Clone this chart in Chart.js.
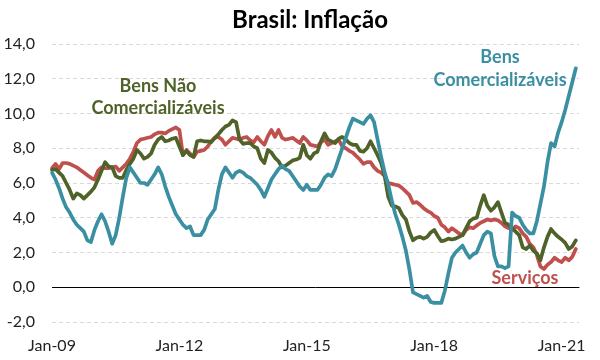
<!DOCTYPE html>
<html><head><meta charset="utf-8">
<script src="https://cdn.jsdelivr.net/npm/chart.js@4.4.1/dist/chart.umd.min.js"></script>
<style>html,body{margin:0;padding:0;background:#fff}</style>
</head><body>
<canvas id="c" width="600" height="360"></canvas>
<script>
// ---- data ----
const startYear = 2009, nMonths = 150;              // Jan-09 .. Jun-21 (axis)
const monthAbbr = ['Jan','Feb','Mar','Apr','May','Jun','Jul','Aug','Sep','Oct','Nov','Dec'];
const categories = [];
for (let i = 0; i < nMonths; i++) {
  categories.push(monthAbbr[i % 12] + '-' + String((startYear + Math.floor(i / 12)) % 100).padStart(2, '0'));
}
const xTickLabels = ['Jan-09', 'Jan-12', 'Jan-15', 'Jan-18', 'Jan-21'];
const yTicks = [-2, 0, 2, 4, 6, 8, 10, 12, 14];

const bensComercializaveis = [
  6.6,6.2,5.7,5.1,4.6,4.3,3.9,3.6,3.4,3.2,
  2.7,2.6,3.3,3.8,4.2,3.8,3.2,2.5,3.0,4.0,
  5.2,6.3,6.9,6.6,6.3,6.0,6.0,5.9,6.2,6.5,
  6.9,6.5,5.8,5.2,4.7,4.2,3.9,3.6,3.4,3.5,
  3.0,3.0,3.0,3.3,3.9,4.2,4.5,5.6,6.5,6.9,
  6.6,6.3,6.6,6.7,6.6,6.4,6.3,6.1,5.9,5.6,
  5.2,5.7,6.2,6.5,6.8,7.0,6.8,6.7,6.4,6.1,
  5.8,5.6,5.9,5.6,5.6,5.6,5.9,6.3,6.5,6.4,
  6.8,7.4,8.0,8.6,9.2,9.7,9.6,9.5,9.4,9.7,
  9.9,9.5,8.5,7.5,6.6,5.9,5.0,4.2,3.6,2.9,
  2.1,1.0,-0.3,-0.4,-0.5,-0.6,-0.5,-0.85,-0.9,-0.9,
  -0.9,-0.2,0.8,1.7,2.0,2.2,2.4,2.0,1.7,1.9,
  2.0,2.5,3.0,3.2,3.1,1.8,1.2,1.2,1.1,1.2,
  4.3,4.1,4.0,3.6,3.3,3.1,3.1,3.8,4.8,5.8,
  7.2,8.3,8.1,8.9,9.5,10.2,11.0,11.8,12.6
];
const bensNaoComercializaveis = [
  6.75,6.8,6.6,6.4,6.0,5.6,5.1,5.4,5.3,5.1,
  5.3,5.5,5.75,6.2,6.7,7.2,6.95,6.9,6.4,6.3,
  6.3,6.75,7.1,7.4,7.9,7.7,7.4,7.5,7.7,8.2,
  8.5,8.65,8.4,8.45,8.55,8.6,8.1,7.6,7.85,7.6,
  7.5,8.4,8.45,8.4,8.4,8.35,8.6,8.8,9.05,9.25,
  9.35,9.6,9.5,8.5,8.25,8.3,8.3,8.1,8.0,7.4,
  7.15,7.9,7.75,7.45,7.25,6.9,7.0,7.15,7.3,7.35,
  7.45,8.2,7.6,7.4,7.7,7.8,8.4,8.85,8.5,8.4,
  8.3,8.55,8.65,8.5,8.3,8.2,8.2,7.85,7.8,8.0,
  8.4,8.0,7.6,7.15,6.4,5.2,4.7,4.65,4.55,4.15,
  3.9,3.2,2.7,2.85,2.9,2.8,2.9,3.15,3.3,2.95,
  2.65,2.7,2.8,2.75,2.8,2.9,3.0,3.4,3.8,3.95,
  4.0,4.7,5.3,4.7,4.4,4.6,4.9,4.3,3.7,3.6,
  3.4,3.2,3.0,2.3,2.2,2.4,2.1,1.95,1.55,2.3,
  2.9,3.35,3.1,2.9,2.75,2.55,2.2,2.35,2.7
];
const servicos = [
  6.85,7.1,6.8,7.15,7.15,7.1,7.0,6.9,6.75,6.6,
  6.45,6.3,6.2,6.7,6.9,6.85,6.85,6.9,6.95,6.7,
  6.9,7.1,7.4,7.8,8.3,8.5,8.55,8.6,8.65,8.8,
  8.9,8.9,8.85,9.0,9.1,9.2,9.05,7.6,7.9,7.7,
  7.5,7.8,7.85,7.9,8.1,8.4,8.6,8.65,8.5,8.2,
  8.4,8.6,8.55,8.5,8.6,8.65,8.45,8.35,8.65,8.4,
  8.2,8.7,9.05,8.65,9.05,8.6,8.5,8.55,8.6,8.45,
  8.3,8.65,8.45,8.2,8.15,8.1,8.35,8.5,8.2,8.3,
  8.4,8.5,8.1,8.0,7.85,7.75,7.55,7.35,7.1,7.2,
  7.2,6.9,6.7,6.6,6.4,6.0,5.95,5.9,5.85,5.7,
  5.5,5.3,4.85,4.9,4.75,4.55,4.4,4.3,4.1,4.0,
  3.6,3.45,3.2,3.4,3.25,3.1,3.0,3.3,3.45,3.4,
  3.55,3.7,3.8,3.9,3.85,3.9,3.85,3.7,3.5,3.4,
  3.3,3.5,3.4,3.1,2.9,2.5,2.3,1.85,1.2,1.05,
  1.3,1.45,1.7,1.55,1.45,1.7,1.55,1.75,2.2
];

// ---- styles ----
const TEAL = '#3A8FA3', OLIVE = '#4F6228', RED = '#C0504D';
const FONT = 'Lato, "Open Sans", sans-serif';

const overlay = {
  id: 'overlay',
  beforeDatasetsDraw(chart) {
    const { ctx, chartArea: a, scales: { y } } = chart;
    const y0 = Math.round(y.getPixelForValue(0)) + 0.5;
    ctx.save();
    ctx.strokeStyle = '#000'; ctx.lineWidth = 1;
    ctx.beginPath(); ctx.moveTo(a.left, y0); ctx.lineTo(a.right, y0); ctx.stroke();
    ctx.restore();
  },
  afterDraw(chart) {
    const ctx = chart.ctx;
    ctx.save();
    ctx.textAlign = 'center'; ctx.textBaseline = 'middle';
    ctx.fillStyle = '#000';
    ctx.font = 'bold 24px ' + FONT;
    ctx.fillText('Brasil: Inflação', 310, 20);
    ctx.font = 'bold 18px ' + FONT;
    ctx.fillStyle = OLIVE;
    ctx.fillText('Bens Não', 158, 86);
    ctx.fillText('Comercializáveis', 158, 108);
    ctx.fillStyle = TEAL;
    ctx.fillText('Bens', 500, 57);
    ctx.fillText('Comercializáveis', 500, 80);
    ctx.fillStyle = RED;
    ctx.fillText('Serviços', 525, 278);
    ctx.restore();
  }
};

const ds = (label, data, color) => ({
  label, data, borderColor: color, backgroundColor: color,
  borderWidth: 3.7, pointRadius: 0, tension: 0, fill: false,
  borderJoinStyle: 'round', borderCapStyle: 'round'
});

new Chart(document.getElementById('c'), {
  type: 'line',
  data: {
    labels: categories,
    datasets: [
      ds('Bens Comercializáveis', bensComercializaveis, TEAL),
      ds('Bens Não Comercializáveis', bensNaoComercializaveis, OLIVE),
      ds('Serviços', servicos, RED)
    ]
  },
  options: {
    responsive: false,
    animation: false,
    layout: { padding: { top: 44, right: 13, left: 0, bottom: 0 } },
    plugins: { legend: { display: false }, tooltip: { enabled: false }, title: { display: false } },
    scales: {
      x: {
        type: 'category',
        offset: false,
        grid: { display: false, drawTicks: false },
        border: { display: false },
        afterFit: s => { s.height = 38; },
        ticks: {
          autoSkip: false, maxRotation: 0, minRotation: 0, padding: 14,
          color: '#222', font: { family: FONT, size: 16 },
          callback: function (v) {
            const l = this.getLabelForValue(v);
            return xTickLabels.includes(l) ? l : null;
          }
        }
      },
      y: {
        min: yTicks[0], max: yTicks[yTicks.length - 1],
        afterBuildTicks: s => { s.ticks = yTicks.map(v => ({ value: v })); },
        afterFit: s => { s.width = 52; },
        grid: { color: '#d9d9d9', lineWidth: 1, drawTicks: false, borderDash: [4, 3] },
        border: { display: false, dash: [4, 3] },
        ticks: {
          padding: 17, color: '#222', font: { family: FONT, size: 16 },
          callback: v => v.toFixed(1).replace('.', ',')
        }
      }
    }
  },
  plugins: [overlay]
});
</script>
</body></html>
